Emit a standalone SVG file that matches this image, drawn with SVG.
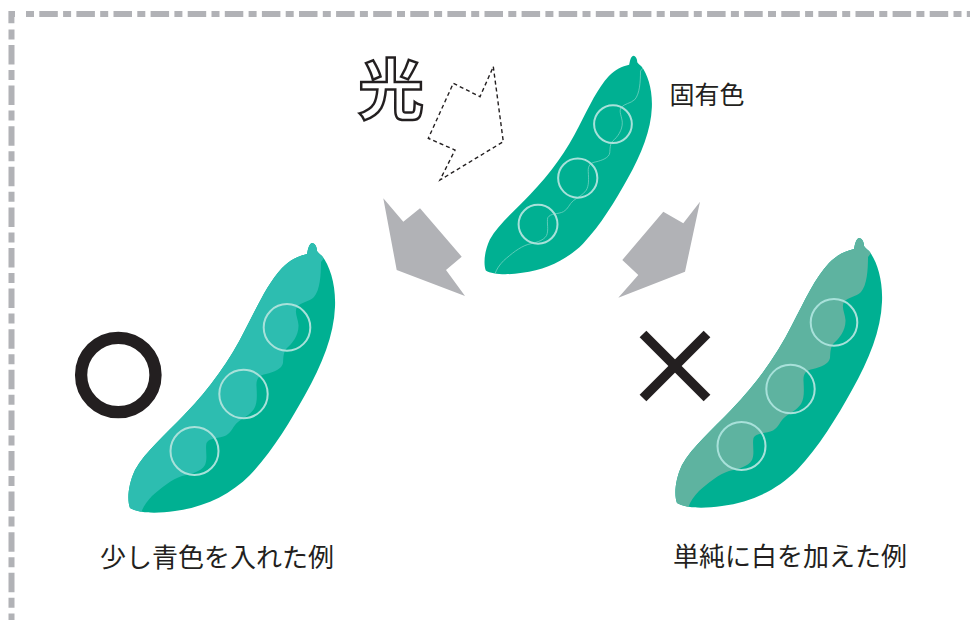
<svg xmlns="http://www.w3.org/2000/svg" xmlns:xlink="http://www.w3.org/1999/xlink" width="970" height="620" viewBox="0 0 970 620">
  <style>
    .frame { fill: none; stroke: #b1b2b6; stroke-width: 6; }
    .label { font-family: "Noto Sans CJK JP", "Noto Sans CJK SC", sans-serif; fill: #231f20; }
    .pod-dark { fill: #00b092; }
    .pea-ring { fill: none; stroke: #a8e1da; stroke-width: 2; }
    .seam { fill: none; stroke: #7fd6c6; stroke-width: 0.9; }
    .reflect { fill: #b1b2b6; }
    .ray { fill: none; stroke: #231f20; stroke-width: 1.4; stroke-dasharray: 4 3; }
    .mark { fill: none; stroke: #231f20; }
  </style>
  <defs>
    <!-- pea pod outline, drawn in the coordinates of the left pod -->
    <path id="pod" d="M 307,254 C 308,249 309,244 312,243 C 315,243 317,247 317,251 C 318,253 320,254 322,256 C 330,266 336,285 335,307 C 334,335 322,365 305,395 C 290,422 272,452 250,475 C 230,495 205,507 175,511 C 155,514 138,513 130,508 C 127,500 128,485 135,470 C 145,452 165,435 185,414 C 210,388 230,360 245,330 C 258,305 268,283 282,268 C 290,260 298,256 307,254 Z"/>
    <clipPath id="pod-clip" clipPathUnits="userSpaceOnUse">
      <use xlink:href="#pod"/>
    </clipPath>
    <!-- the line where the two halves of the pod meet -->
    <path id="seam" d="M 340,238 L 321,262 C 321,275 320,290 314,297 C 309,302 301,302 297,307 C 294,312 298,318 298.5,325 C 299,335 292,344 287,348 C 283,352 283.5,358 283,363 C 282,369 274,372 266,374 C 259,375 256,379 256.5,386 C 257,396 257.5,403 254,409 C 250,415 243,418 238,422 C 233,426 232,432 226,435.5 C 219,439 210,437 206.5,443 C 205,449 208,458 205,465 C 201,472 190,474 182,476 C 172,479 161,488 152,496 C 147,501 143,507 141.5,512 L 138,530"/>
    <!-- front half of the pod (left of the seam) -->
    <path id="flesh" d="M 340,238 L 321,262 C 321,275 320,290 314,297 C 309,302 301,302 297,307 C 294,312 298,318 298.5,325 C 299,335 292,344 287,348 C 283,352 283.5,358 283,363 C 282,369 274,372 266,374 C 259,375 256,379 256.5,386 C 257,396 257.5,403 254,409 C 250,415 243,418 238,422 C 233,426 232,432 226,435.5 C 219,439 210,437 206.5,443 C 205,449 208,458 205,465 C 201,472 190,474 182,476 C 172,479 161,488 152,496 C 147,501 143,507 141.5,512 L 138,530 L 60,530 L 60,200 L 340,200 Z"/>
    <g id="peas">
      <circle class="pea-ring" cx="287" cy="327.4" r="23.3" vector-effect="non-scaling-stroke"/>
      <circle class="pea-ring" cx="243.5" cy="394" r="24.2" vector-effect="non-scaling-stroke"/>
      <circle class="pea-ring" cx="194.5" cy="451" r="24" vector-effect="non-scaling-stroke"/>
    </g>
  </defs>

  <rect width="970" height="620" fill="#ffffff"/>

  <!-- dash-dot frame along the top and left edges -->
  <g id="frame">
    <path d="M 11.4,23.3 V 14 H 15" class="frame" stroke-linecap="butt"/>
    <line x1="26" y1="14" x2="970" y2="14" class="frame" stroke-dasharray="8 5.3 18.5 5.3"/>
    <line x1="11.5" y1="29.4" x2="11.5" y2="620" class="frame" stroke-dasharray="10 5.6 19.5 5.5"/>
  </g>

  <!-- connectors: incoming light and the two reflected arrows -->
  <g id="connectors">
    <polygon class="ray" points="493.3,66.7 503.3,141.7 440,180 455,150 428.3,138.3 453.3,83.3 480,96.7"/>
    <polygon class="reflect" points="383.3,198.3 403.3,221.7 420,208.3 461.7,256.7 446,270 465,296 396.7,270"/>
    <polygon class="reflect" points="700,201.7 683.3,223.3 663.3,211.7 622.3,260 638.3,275 618.3,297.7 685,271.7"/>
  </g>

  <!-- light source -->
  <g id="light">
    <text x="391" y="114" text-anchor="middle" class="label" font-size="66" font-weight="700" stroke="#231f20" stroke-width="2.5" stroke-linejoin="miter" style="fill:#ffffff">光</text>
  </g>

  <!-- pod in its own colour -->
  <g id="pea-original" transform="matrix(0.81,0,0,0.81,380.5,-141.1)">
    <use xlink:href="#pod" class="pod-dark"/>
    <use xlink:href="#seam" class="seam" clip-path="url(#pod-clip)" vector-effect="non-scaling-stroke"/>
    <use xlink:href="#peas"/>
  </g>
  <g id="label-original">
    <text x="669.5" y="104.3" class="label" font-size="25">固有色</text>
  </g>

  <!-- pod shaded with a touch of blue -->
  <g id="pea-blue">
    <use xlink:href="#pod" class="pod-dark"/>
    <use xlink:href="#flesh" fill="#2dbdb0" clip-path="url(#pod-clip)"/>
    <use xlink:href="#peas"/>
  </g>
  <g id="mark-ok">
    <circle cx="118.3" cy="375" r="37.2" class="mark" stroke-width="12.3"/>
  </g>
  <g id="label-blue">
    <text x="100" y="566.5" class="label" font-size="26">少し青色を入れた例</text>
  </g>

  <!-- pod shaded by simply adding white -->
  <g id="pea-white" transform="translate(547,-5)">
    <use xlink:href="#pod" class="pod-dark"/>
    <use xlink:href="#flesh" fill="#5eb3a0" clip-path="url(#pod-clip)"/>
    <use xlink:href="#peas"/>
  </g>
  <g id="mark-ng">
    <line x1="643" y1="334" x2="707" y2="398" class="mark" stroke-width="9.5"/>
    <line x1="707" y1="334" x2="643" y2="398" class="mark" stroke-width="9.5"/>
  </g>
  <g id="label-white">
    <text x="673" y="566" class="label" font-size="26">単純に白を加えた例</text>
  </g>
</svg>
